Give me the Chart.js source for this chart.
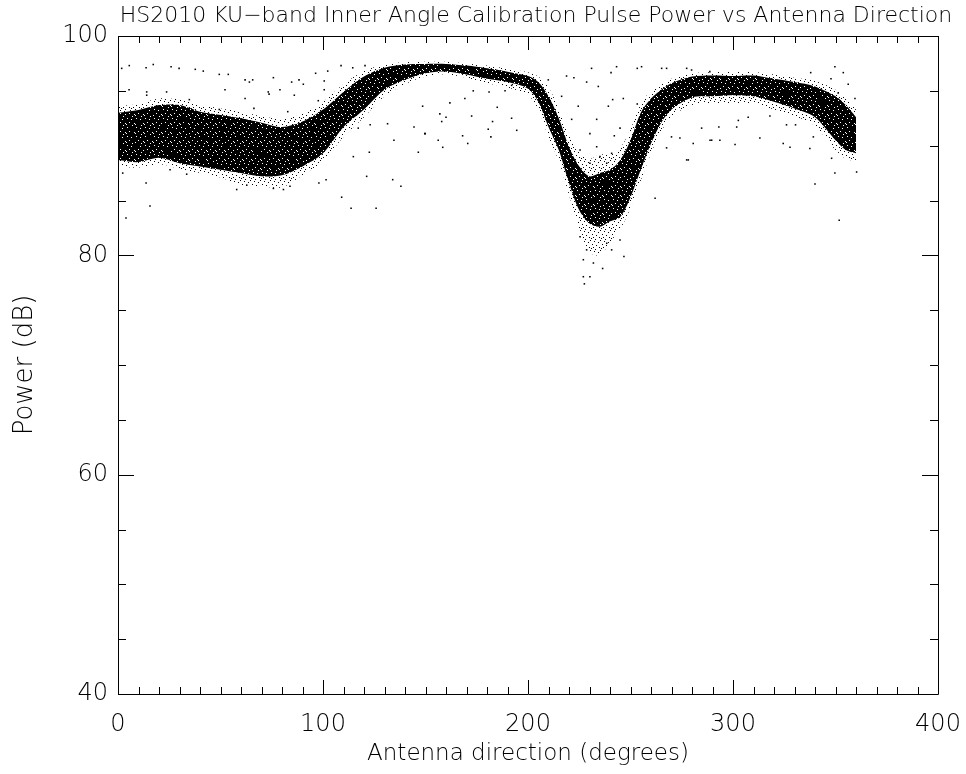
<!DOCTYPE html>
<html>
<head>
<meta charset="utf-8">
<script src="https://cdn.jsdelivr.net/npm/chart.js@4.4.1/dist/chart.umd.min.js"></script>
<style>
  html, body { margin: 0; padding: 0; background: #fff; }
  #wrap { width: 966px; height: 774px; }
</style>
</head>
<body>
<div id="wrap"><canvas id="scatterChart"></canvas></div>
<script>
// dense core of the point cloud: lower / upper edge (dB) at each direction
const bandDeg    = [0, 10, 20, 30, 40, 50, 60, 70, 80, 90, 100, 110, 120, 130, 140, 150, 160, 170, 180, 190, 200, 205, 210, 215, 220, 225, 230, 235, 240, 245, 250, 255, 260, 265, 270, 280, 290, 300, 310, 320, 330, 340, 350, 355, 360];
const bandLow    = [88.7, 88.5, 88.9, 88.4, 88.1, 87.8, 87.5, 87.2, 87.3, 88.1, 89.3, 91.7, 93.3, 95.1, 96.0, 96.6, 96.75, 96.5, 96.1, 95.8, 95.2, 94.0, 91.7, 89.6, 86.6, 84.1, 82.9, 82.6, 83.1, 83.5, 85.3, 87.8, 90.2, 92.1, 93.3, 94.4, 94.5, 94.6, 94.5, 94.0, 93.4, 92.6, 90.5, 89.6, 89.3];
const bandHigh   = [93.0, 93.25, 93.7, 93.7, 93.1, 92.8, 92.5, 92.1, 91.7, 92.2, 93.3, 94.9, 96.3, 97.1, 97.4, 97.45, 97.45, 97.3, 97.05, 96.75, 96.35, 95.8, 94.5, 92.5, 89.9, 88.1, 87.2, 87.5, 87.8, 88.7, 90.5, 93.0, 94.3, 95.1, 95.7, 96.3, 96.4, 96.35, 96.4, 96.1, 95.8, 95.4, 94.5, 93.7, 92.6];
// thinner fringe of the cloud around the core
const fringeLow  = [88.1, 88.0, 88.3, 87.9, 87.5, 87.1, 86.4, 86.3, 86.2, 87.3, 88.6, 90.8, 92.6, 94.5, 95.6, 96.3, 96.5, 96.2, 95.7, 95.3, 94.6, 93.3, 90.8, 88.6, 85.5, 82.5, 80.3, 80.0, 81.2, 82.4, 84.3, 86.8, 89.3, 91.3, 92.6, 93.7, 93.8, 93.9, 93.8, 93.3, 92.7, 91.8, 89.6, 88.8, 88.6];
const fringeHigh = [93.6, 93.8, 94.3, 94.2, 93.7, 93.4, 93.1, 92.7, 92.4, 92.9, 94.0, 95.6, 96.8, 97.4, 97.6, 97.65, 97.65, 97.5, 97.3, 97.0, 96.7, 96.3, 95.3, 93.4, 91.0, 89.4, 88.8, 89.2, 89.2, 89.8, 91.5, 93.8, 95.0, 95.6, 96.1, 96.6, 96.7, 96.7, 96.7, 96.5, 96.2, 95.9, 95.1, 94.3, 93.3];

// scattered single points outside the band
const dotDeg = [1.8, 5.5, 13.7, 17.2, 25.9, 29.8, 37.7, 41.6, 49.4, 53.8, 62, 64.1, 65.7, 75.8, 84.7, 88.3, 90.4, 96.4, 100.6, 102.3, 108.8, 114.5, 120.5,
  5.4, 14, 14, 23.7, 34.8, 52.2, 62, 73.3, 73.7, 79, 86, 97.7, 100.6, 66.3, 49.4, 82.8, 117.2, 123, 131.5, 134.6, 144.4, 149.8, 146.5, 122.6, 114.8,
  121.3, 134, 138, 101.5, 98, 109.1, 113.7, 125.9, 15.6, 3.9, 13.7, 25.4, 33.5, 2.3, 57.9, 62.8, 75.8, 80.7, 83.9,
  231, 243.2, 240.5, 253.3, 255.4, 265.2, 267.6, 277.4, 218.8, 222.4, 209.9, 228.6, 234.3, 216.4, 246.5, 241.3, 224.5, 239.2, 253.3, 233.5, 244.9,
  230.2, 221.3, 242.1, 173.3, 169.2, 161.9, 181, 188.8, 192, 185, 172.5, 157, 160, 157.9, 149.7, 156.2, 158.4, 168.1, 170.6, 180.6, 181.9, 182.7,
  194.5, 192, 148.6, 262, 267.6, 270, 277.4, 274.1, 280.6, 284.7, 288.8, 293.6, 301,
  279.8, 288.7, 337.9, 349.7, 353.8, 356.2, 347.8, 351.3, 359.5, 340.8, 341.6, 278.2, 289.6, 313.1, 324.5, 327.8, 326.1, 330.5, 337.5, 339.2, 340,
  348.1, 349.7, 351.8, 360.3, 293.1, 301.8, 307.4, 318, 302.6,
  227, 230.2, 227.5, 236.4, 231.9, 227, 228.6, 240.8, 246.8, 225.4, 244.9, 238.4, 233.5, 235.1, 240.8, 225.4, 238.4, 230.2];
const dotDb = [97.05, 97.3, 97.1, 97.4, 97.2, 97.05, 96.96, 96.8, 96.5, 96.5, 96.0, 95.8, 96.0, 96.2, 95.8, 96.0, 95.6, 96.6, 95.9, 96.8, 97.3, 97.1, 97.3,
  95.1, 94.9, 94.6, 94.9, 94.2, 95.1, 94.3, 94.9, 94.7, 95.1, 94.6, 94.1, 95.1, 93.4, 93.3, 93.1, 91.6, 91.9, 92.0, 90.5, 91.7, 91.1, 89.4, 89.4, 89.0,
  87.2, 86.9, 86.3, 86.9, 86.6, 85.3, 84.3, 84.3, 84.5, 83.4, 86.6, 87.8, 87.4, 87.5, 86.0, 86.4, 86.1, 86.0, 86.3,
  97.05, 97.2, 96.66, 97.05, 97.2, 97.05, 97.05, 97.05, 96.35, 96.2, 96.0, 95.8, 95.4, 94.5, 94.3, 94.2, 93.6, 93.6, 93.8, 92.4, 91.6,
  91.1, 92.4, 90.9, 95.0, 94.3, 93.9, 94.9, 95.0, 95.5, 93.5, 92.7, 92.9, 92.6, 92.2, 91.1, 90.5, 89.85, 90.9, 90.2, 91.5, 90.8, 92.2,
  91.4, 92.5, 93.6, 85.2, 89.8, 90.8, 88.7, 90.7, 90.2, 91.6, 90.5, 90.5, 90.1,
  96.9, 96.75, 96.66, 97.2, 96.66, 95.6, 96.1, 94.8, 94.3, 95.1, 94.5, 88.7, 90.5, 90.7, 90.2, 89.85, 91.9, 91.9, 89.75, 90.8, 86.5,
  88.85, 87.5, 83.2, 87.6, 91.7, 91.7, 92.6, 92.7, 92.3,
  78.05, 78.05, 77.4, 78.8, 79.3, 79.6, 80.5, 80.5, 79.9, 81.7, 81.4, 81.1, 89.9, 89.0, 89.3, 89.6, 88.4, 88.4];

const xTicks = [0, 100, 200, 300, 400];
const yTicks = [40, 60, 80, 100];

const chartTitle = 'HS2010 KU\u2212band Inner Angle Calibration Pulse Power vs Antenna Direction';
const xTitle = 'Antenna direction (degrees)';
const yTitle = 'Power (dB)';

const textFont = '"DejaVu Sans", sans-serif';

// speckled fills so the band reads as a cloud of dots
function dotPattern(size, base, spots) {
    const c = document.createElement('canvas');
    c.width = size; c.height = size;
    const g = c.getContext('2d');
    g.fillStyle = '#000';
    if (base) g.fillRect(0, 0, size, size);
    for (const [px, py] of spots) {
        if (base) g.clearRect(px, py, 1, 1);
        else g.fillRect(px, py, 1, 1);
    }
    return g.createPattern(c, 'repeat');
}
const ctx0 = document.getElementById('scatterChart').getContext('2d');
const corePattern = dotPattern(9, true, [[1, 1], [5, 2], [3, 5], [8, 6], [6, 8], [0, 7]]);
const fringePattern = dotPattern(10, false, [[0, 0], [4, 1], [8, 2], [2, 4], [6, 5], [9, 7], [1, 8], [5, 9], [3, 7]]);

// frame with inward ticks on all four sides, plus title
const framePlugin = {
    id: 'frame',
    afterDraw(chart) {
        const ctx = chart.ctx;
        const a = chart.chartArea;
        const xs = chart.scales.x;
        const ys = chart.scales.y;
        ctx.save();
        ctx.strokeStyle = '#000';
        ctx.lineWidth = 1;
        ctx.beginPath();
        ctx.rect(Math.round(a.left) + 0.5, Math.round(a.top) + 0.5, Math.round(a.right - a.left), Math.round(a.bottom - a.top));
        for (let v = 0; v <= 400; v += 10) {
            const px = Math.round(xs.getPixelForValue(v)) + 0.5;
            const len = (v % 100 === 0) ? 14 : 7;
            ctx.moveTo(px, a.bottom); ctx.lineTo(px, a.bottom - len);
            ctx.moveTo(px, a.top); ctx.lineTo(px, a.top + len);
        }
        for (let v = 40; v <= 100; v += 5) {
            const py = Math.round(ys.getPixelForValue(v)) + 0.5;
            const len = (v % 20 === 0) ? 16 : 8;
            ctx.moveTo(a.left, py); ctx.lineTo(a.left + len, py);
            ctx.moveTo(a.right, py); ctx.lineTo(a.right - len, py);
        }
        ctx.stroke();

        ctx.fillStyle = '#000';
        ctx.font = '200 22px ' + textFont;
        ctx.textAlign = 'center';
        ctx.textBaseline = 'middle';
        ctx.fillText(chartTitle, 536, 16);
        ctx.restore();
    }
};

const toPts = (ys) => bandDeg.map((d, i) => ({ x: d, y: ys[i] }));
const dotPts = dotDeg.map((d, i) => ({ x: d, y: dotDb[i] }));

const canvas = document.getElementById('scatterChart');
canvas.chart = new Chart(ctx0, {
    type: 'scatter',
    data: {
        datasets: [
            { label: 'fringe low', data: toPts(fringeLow), showLine: true, borderWidth: 0, pointRadius: 0, tension: 0.3, fill: false, order: 3 },
            { label: 'fringe high', data: toPts(fringeHigh), showLine: true, borderWidth: 0, pointRadius: 0, tension: 0.3, backgroundColor: fringePattern, fill: '-1', order: 3 },
            { label: 'band low', data: toPts(bandLow), showLine: true, borderWidth: 0, pointRadius: 0, tension: 0.3, fill: false, order: 2 },
            { label: 'band high', data: toPts(bandHigh), showLine: true, borderWidth: 0, pointRadius: 0, tension: 0.3, backgroundColor: corePattern, fill: '-1', order: 2 },
            {
                label: 'points',
                data: dotPts,
                backgroundColor: '#000',
                borderWidth: 0,
                pointStyle: 'rect',
                pointRadius: 1.1,
                order: 1,
            },
        ],
    },
    options: {
        responsive: true,
        maintainAspectRatio: false,
        animation: false,
        layout: { padding: { left: 6, right: 28, top: 36, bottom: 6 } },
        plugins: {
            legend: { display: false },
            tooltip: { enabled: false },
            title: { display: false },
        },
        scales: {
            x: {
                type: 'linear',
                min: 0,
                max: 400,
                afterBuildTicks: (s) => { s.ticks = xTicks.map(v => ({ value: v })); },
                afterFit: (s) => { s.height = 74; s.paddingLeft = 0; s.paddingRight = 0; },
                grid: { display: false, drawTicks: false },
                border: { display: false },
                ticks: {
                    color: '#000',
                    padding: 16,
                    font: { family: textFont, size: 24, weight: 200 },
                },
                title: {
                    display: true,
                    text: xTitle,
                    color: '#000',
                    padding: { top: 0, bottom: 0 },
                    font: { family: textFont, size: 23, weight: 200 },
                },
            },
            y: {
                type: 'linear',
                min: 40,
                max: 100,
                afterBuildTicks: (s) => { s.ticks = yTicks.map(v => ({ value: v })); },
                afterFit: (s) => { s.width = 112; s.paddingTop = 0; s.paddingBottom = 0; },
                grid: { display: false, drawTicks: false },
                border: { display: false },
                ticks: {
                    color: '#000',
                    padding: 10,
                    font: { family: textFont, size: 24, weight: 200 },
                },
                title: {
                    display: true,
                    text: yTitle,
                    color: '#000',
                    padding: { top: 4, bottom: 0 },
                    font: { family: textFont, size: 26, weight: 200 },
                },
            },
        },
    },
    plugins: [framePlugin],
});
</script>
</body>
</html>
